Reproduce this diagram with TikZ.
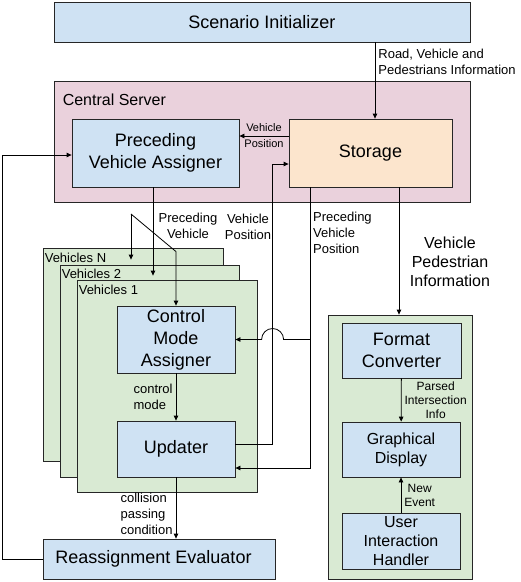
\documentclass[tikz,border=0pt]{standalone}
\usepackage{fontspec}
\setmainfont{Liberation Sans}
\usetikzlibrary{arrows.meta}
\definecolor{boxblue}{HTML}{CFE2F3}
\definecolor{serverpink}{HTML}{EAD1DC}
\definecolor{storepeach}{HTML}{FCE5CD}
\definecolor{groupgreen}{HTML}{D9EAD3}

\begin{document}
\begin{tikzpicture}[x=1pt,y=-1pt,
    box/.style={draw=black!85,line width=0.8pt,fill=boxblue,inner sep=0pt,align=center,font=\fontsize{18}{22}\selectfont},
    group/.style={draw=black!85,line width=0.8pt,fill=groupgreen,inner sep=0pt},
    grouplbl/.style={anchor=base west,inner sep=0pt,font=\fontsize{13}{16}\selectfont},
    link/.style={line width=0.8pt,-{Triangle[length=5pt,width=4.5pt]}},
    lbl/.style={font=\fontsize{13}{16}\selectfont,align=left,inner sep=3pt},
    sublbl/.style={font=\fontsize{12}{14}\selectfont,align=center,inner sep=3pt}]
    \useasboundingbox (0,0) rectangle (521,582);
    \node[box,minimum width=416pt,minimum height=40pt] (init) at (262,22) {Scenario Initializer};
    \node[group,fill=serverpink,minimum width=416pt,minimum height=121pt] (server) at (262,141.5) {};
    \node[grouplbl,font=\fontsize{16}{19}\selectfont] (serverlbl) at ([xshift=9pt,yshift=-25pt]server.north west) {Central Server};
    \node[box,minimum width=167pt,minimum height=68pt] (pva) at (155.5,153) {Preceding\\Vehicle Assigner};
    \node[box,fill=storepeach,minimum width=163pt,minimum height=68pt] (storage) at (370.5,153) {Storage};
    \node[group,minimum width=180pt,minimum height=213pt] (vehN) at (133,354.5) {};
    \node[grouplbl] (vehNlbl) at ([xshift=2pt,yshift=-15pt]vehN.north west) {Vehicles N};
    \node[group,minimum width=179pt,minimum height=212pt] (veh2) at (149.5,371) {};
    \node[grouplbl] (veh2lbl) at ([xshift=2pt,yshift=-14pt]veh2.north west) {Vehicles 2};
    \node[group,minimum width=180pt,minimum height=212pt] (veh1) at (167,386) {};
    \node[grouplbl] (veh1lbl) at ([xshift=2pt,yshift=-15pt]veh1.north west) {Vehicles 1};
    \node[box,minimum width=118pt,minimum height=67pt] (cma) at (176,339.5) {Control\\Mode\\Assigner};
    \node[box,minimum width=118pt,minimum height=56pt] (upd) at (176,449) {Updater};
    \node[box,minimum width=232pt,minimum height=40pt] (reassign) at (159,559) {\hspace*{-11pt}Reassignment Evaluator};
    \node[group,minimum width=144pt,minimum height=264pt] (gui) at (400,447) {};
    \node[box,minimum width=119pt,minimum height=55pt] (fmt) at (401.5,350.5) {Format\\Converter};
    \node[box,minimum width=118pt,minimum height=55pt,font=\fontsize{16}{19}\selectfont] (disp) at (401,449.5) {Graphical\\Display};
    \node[box,minimum width=118pt,minimum height=56pt,font=\fontsize{16}{19}\selectfont] (uih) at (401,541) {User\\Interaction\\Handler};
    \coordinate (split) at (131,214);
    \coordinate (busA) at ([xshift=-60.5pt]storage.south);
    \coordinate (busB) at ([xshift=-16pt,yshift=-11pt]storage.west);
    \draw[link] ([xshift=4.5pt]storage.north |- init.south) -- ([xshift=4.5pt]storage.north)
        node[pos=0.25,right,lbl] (roadlbl) {Road, Vehicle and\\Pedestrians Information};
    \draw[link] ([yshift=17pt]storage.west) -- ([yshift=17pt]storage.west -| pva.east)
        node[midway,above,font=\fontsize{11}{12}\selectfont,inner sep=3.5pt] (vplbl) {Vehicle}
        node[midway,below,font=\fontsize{11}{12}\selectfont,inner sep=3.5pt] (pplbl) {Position};
    \draw[link] ([yshift=5pt]upd.east) -| (busB) -- ([yshift=-11pt]storage.west);
    \draw[link] (busA) |- ([yshift=-19pt]upd.east);
    \draw[link] (busA |- cma.east) -- ([xshift=11pt]busB |- cma.east)
        arc[start angle=0,end angle=180,radius=11pt] -- (cma.east);
    \draw[link] ([xshift=28.5pt]storage.south) -- ([xshift=28.5pt]storage.south |- gui.north);
    \draw[link] ([xshift=-2.5pt]pva.south) -- ([xshift=-2.5pt,yshift=-11pt]pva.south |- veh2.north);
    \draw[link] (split) -- ([yshift=-12pt]split |- vehN.north);
    \draw[link] (split) -- ([yshift=54pt]cma.north) -- (cma.north);
    \draw[link] (cma) -- (upd) node[midway,left,lbl] (modelbl) {control\\mode};
    \draw[link] (upd.south) -- (upd.south |- reassign.north)
        node[pos=0.6,left,lbl] (collbl) {collision\\passing\\condition};
    \draw[link] (reassign.west) -- ++(-40,0) |- ([yshift=-2pt]pva.west);
    \draw[link] (fmt) -- (disp) node[midway,right,sublbl] (parsedlbl) {Parsed\\Intersection\\Info};
    \draw[link] (uih) -- (disp) node[midway,right,sublbl] (eventlbl) {New\\Event};
    \node[lbl,align=center] (pvlbl) at (188,226) {Preceding\\Vehicle};
    \node[lbl,align=center] (vposlbl) at (248,227) {Vehicle\\Position};
    \node[lbl,anchor=west] (pvposlbl) at (310,233) {Preceding\\Vehicle\\Position};
    \node[lbl,align=center,font=\fontsize{16}{19}\selectfont] (pedlbl) at (450,262) {Vehicle\\Pedestrian\\Information};
\end{tikzpicture}
\end{document}
